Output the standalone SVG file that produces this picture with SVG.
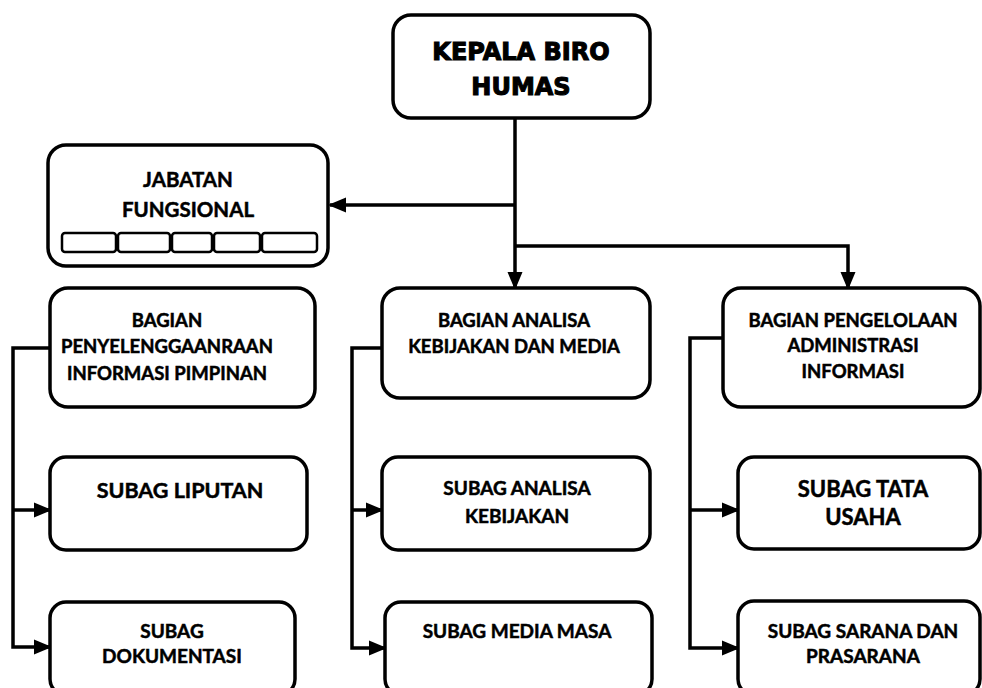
<svg xmlns="http://www.w3.org/2000/svg" width="982" height="688" viewBox="0 0 982 688">
<defs>
<style>
.box{fill:#fff;stroke:#000;stroke-width:3.5}
.slot{fill:#fff;stroke:#000;stroke-width:2.5}
.t{font-family:Lato,"Liberation Sans",sans-serif;font-weight:bold;fill:#000;stroke:#000;stroke-width:0.5;text-anchor:middle}
.h{font-family:"DejaVu Sans",sans-serif;font-weight:bold;fill:#000;stroke:#000;stroke-width:1.1;text-anchor:middle;font-size:24px}
.c{fill:none;stroke:#000;stroke-width:3.5}
</style>
<marker id="ah" markerUnits="userSpaceOnUse" markerWidth="18" markerHeight="18" refX="16" refY="9" orient="auto" viewBox="0 0 18 18">
<path d="M0,1.5 L18,9 L0,16.5 Z" fill="#000"/>
</marker>
</defs>
<rect width="982" height="688" fill="#fff"/>
<g id="connectors">
<path class="c" d="M515,118 V288" marker-end="url(#ah)"/>
<path class="c" d="M515,205 H330" marker-end="url(#ah)"/>
<path class="c" d="M515,246 H848 V288" marker-end="url(#ah)"/>
<path class="c" d="M50,348 H13 V647 H50" marker-end="url(#ah)"/>
<path class="c" d="M13,510 H50" marker-end="url(#ah)"/>
<path class="c" d="M382,348 H352 V648 H385" marker-end="url(#ah)"/>
<path class="c" d="M352,510 H382" marker-end="url(#ah)"/>
<path class="c" d="M723,338 H690 V648 H738" marker-end="url(#ah)"/>
<path class="c" d="M690,510 H738" marker-end="url(#ah)"/>
</g>
<g id="kepala">
<rect class="box" x="393" y="15" width="257" height="103" rx="18"/>
<text class="h" x="521" y="60">KEPALA BIRO</text>
<text class="h" x="521" y="95">HUMAS</text>
</g>
<g id="jabatan">
<rect class="box" x="48" y="145" width="280" height="121" rx="18"/>
<text class="t" x="188" y="187" font-size="20.5">JABATAN</text>
<text class="t" x="188" y="217" font-size="20.5">FUNGSIONAL</text>
<rect class="slot" x="62" y="233" width="54" height="19" rx="3"/>
<rect class="slot" x="118" y="233" width="52" height="19" rx="3"/>
<rect class="slot" x="172" y="233" width="40" height="19" rx="3"/>
<rect class="slot" x="214" y="233" width="46" height="19" rx="3"/>
<rect class="slot" x="262" y="233" width="55" height="19" rx="3"/>
</g>
<g id="bagian-penyelenggaraan">
<rect class="box" x="50" y="288" width="265" height="119" rx="18"/>
<text class="t" x="167" y="327" font-size="18.5">BAGIAN</text>
<text class="t" x="167" y="353" font-size="18.5">PENYELENGGAANRAAN</text>
<text class="t" x="167" y="380" font-size="18.5">INFORMASI PIMPINAN</text>
</g>
<g id="subag-liputan">
<rect class="box" x="50" y="457" width="257" height="93" rx="16"/>
<text class="t" x="180" y="498" font-size="21.5">SUBAG LIPUTAN</text>
</g>
<g id="subag-dokumentasi">
<rect class="box" x="50" y="602" width="245" height="93" rx="16"/>
<text class="t" x="172" y="638" font-size="19">SUBAG</text>
<text class="t" x="172" y="663" font-size="19">DOKUMENTASI</text>
</g>
<g id="bagian-analisa">
<rect class="box" x="382" y="288" width="268" height="110" rx="18"/>
<text class="t" x="514" y="327" font-size="18.5">BAGIAN ANALISA</text>
<text class="t" x="514" y="353" font-size="18.5">KEBIJAKAN DAN MEDIA</text>
</g>
<g id="subag-analisa">
<rect class="box" x="382" y="457" width="268" height="93" rx="16"/>
<text class="t" x="517" y="495" font-size="19">SUBAG ANALISA</text>
<text class="t" x="517" y="523" font-size="19">KEBIJAKAN</text>
</g>
<g id="subag-media">
<rect class="box" x="385" y="602" width="267" height="93" rx="16"/>
<text class="t" x="517" y="638" font-size="19">SUBAG MEDIA MASA</text>
</g>
<g id="bagian-pengelolaan">
<rect class="box" x="723" y="288" width="257" height="119" rx="18"/>
<text class="t" x="853" y="327" font-size="18.5">BAGIAN PENGELOLAAN</text>
<text class="t" x="853" y="352" font-size="18.5">ADMINISTRASI</text>
<text class="t" x="853" y="378" font-size="18.5">INFORMASI</text>
</g>
<g id="subag-tata">
<rect class="box" x="738" y="457" width="242" height="92" rx="16"/>
<text class="t" x="863" y="497" font-size="22">SUBAG TATA</text>
<text class="t" x="863" y="525" font-size="22">USAHA</text>
</g>
<g id="subag-sarana">
<rect class="box" x="738" y="601" width="242" height="94" rx="16"/>
<text class="t" x="863" y="638" font-size="19">SUBAG SARANA DAN</text>
<text class="t" x="863" y="663" font-size="19">PRASARANA</text>
</g>
</svg>
